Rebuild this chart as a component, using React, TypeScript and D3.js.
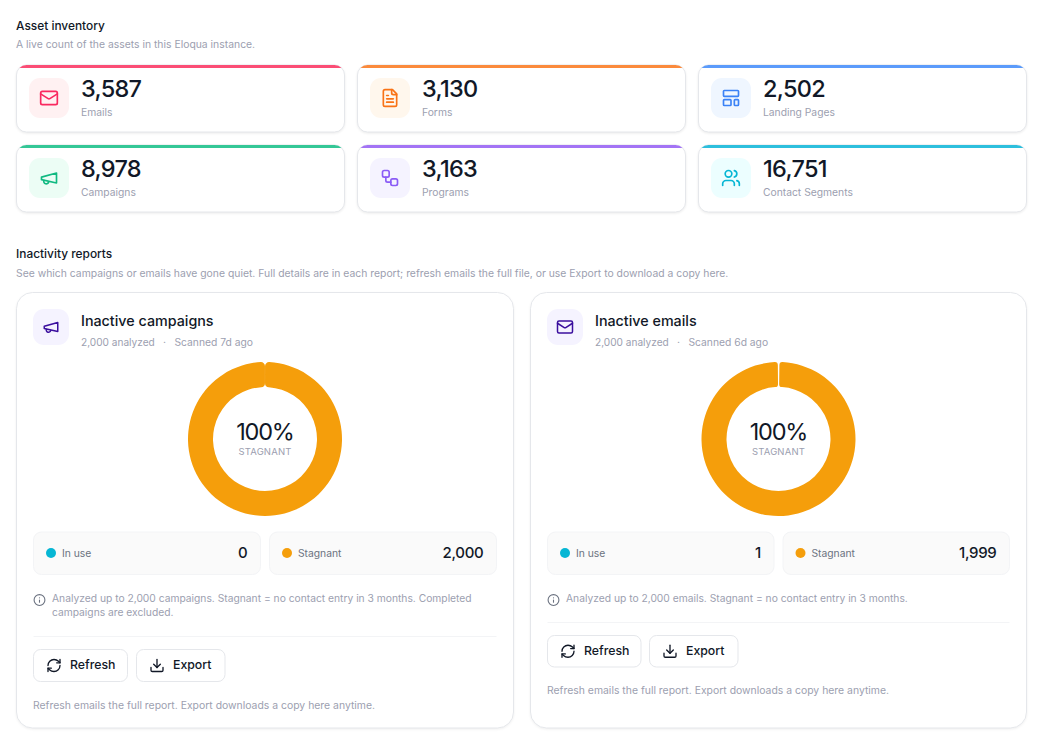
import * as d3 from "d3";

const assetLabels = ["Emails", "Forms", "Landing Pages", "Campaigns", "Programs", "Contact Segments"];
const assetCounts = [3587, 3130, 2502, 8978, 3163, 16751];
const assetIcons = ["mail", "file", "layout", "megaphone", "workflow", "users"];
const assetBars = ["#fb4d75", "#fb8a3c", "#5b9bfb", "#34c796", "#a374f5", "#2dbfdd"];
const assetTints = ["#fff1f2", "#fff7ed", "#eff6ff", "#ecfdf5", "#f5f3ff", "#ecfeff"];
const assetStrokes = ["#f9295f", "#f97316", "#3b82f6", "#10b981", "#8b5cf6", "#06b6d4"];

const reportTitles = ["Inactive campaigns", "Inactive emails"];
const reportIcons = ["megaphone", "mail"];
const reportAnalyzed = [2000, 2000];
const reportScanned = ["Scanned 7d ago", "Scanned 6d ago"];
const inUseCounts = [0, 1];
const stagnantCounts = [2000, 1999];
const reportNotes = [
  ["Analyzed up to 2,000 campaigns. Stagnant = no contact entry in 3 months. Completed", "campaigns are excluded."],
  ["Analyzed up to 2,000 emails. Stagnant = no contact entry in 3 months."],
];
const statusLabels = ["In use", "Stagnant"];
const statusColors = ["#06b6d4", "#f59e0b"];

const FONT = "Inter, sans-serif";
const INK = "#111827";
const MUTED = "#9ca0b0";

const ICONS: Record<string, any> = {
  mail: <><rect x={2} y={4} width={20} height={16} rx={2} /><path d="m22 7-8.97 5.7a1.94 1.94 0 0 1-2.06 0L2 7" /></>,
  file: <><path d="M15 2H6a2 2 0 0 0-2 2v16a2 2 0 0 0 2 2h12a2 2 0 0 0 2-2V7Z" /><path d="M14 2v4a2 2 0 0 0 2 2h4" /><path d="M10 9H8" /><path d="M16 13H8" /><path d="M16 17H8" /></>,
  layout: <><rect x={3} y={3} width={18} height={7} rx={1} /><rect x={3} y={14} width={9} height={7} rx={1} /><rect x={16} y={14} width={5} height={7} rx={1} /></>,
  megaphone: <><path d="m3 11 18-5v12L3 14v-3z" /><path d="M11.6 16.8a3 3 0 1 1-5.8-1.6" /></>,
  workflow: <><rect x={3} y={3} width={8} height={8} rx={2} /><path d="M7 11v4a2 2 0 0 0 2 2h4" /><rect x={13} y={13} width={8} height={8} rx={2} /></>,
  users: <><path d="M16 21v-2a4 4 0 0 0-4-4H6a4 4 0 0 0-4 4v2" /><circle cx={9} cy={7} r={4} /><path d="M22 21v-2a4 4 0 0 0-3-3.87" /><path d="M16 3.13a4 4 0 0 1 0 7.75" /></>,
  refresh: <><path d="M3 12a9 9 0 0 1 9-9 9.75 9.75 0 0 1 6.74 2.74L21 8" /><path d="M21 3v5h-5" /><path d="M21 12a9 9 0 0 1-9 9 9.75 9.75 0 0 1-6.74-2.74L3 16" /><path d="M8 16H3v5" /></>,
  download: <><path d="M21 15v4a2 2 0 0 1-2 2H5a2 2 0 0 1-2-2v-4" /><path d="M7 10l5 5 5-5" /><path d="M12 15V3" /></>,
  info: <><circle cx={12} cy={12} r={10} /><path d="M12 16v-4" /><path d="M12 8h.01" /></>,
};

function Icon({ name, cx, cy, size, color }: { name: string; cx: number; cy: number; size: number; color: string }) {
  const k = size / 24;
  return (
    <g transform={`translate(${cx - size / 2},${cy - size / 2}) scale(${k})`} fill="none" stroke={color} strokeWidth={2} strokeLinecap="round" strokeLinejoin="round">
      {ICONS[name]}
    </g>
  );
}

function Label({ x, y, size, weight = 400, color = INK, anchor = "start", spacing, children }: any) {
  return (
    <text x={x} y={y} fontSize={size} fontWeight={weight} fill={color} textAnchor={anchor} letterSpacing={spacing} fontFamily={FONT}>
      {children}
    </text>
  );
}

const fmt = d3.format(",");

const assetCol = d3.scaleBand<number>().domain([0, 1, 2]).range([16.5, 1026.5]).paddingInner(13 / 341);
const assetRow = d3.scaleOrdinal<number, number>().domain([0, 1]).range([65, 145]);

function AssetCard({ i }: { i: number }) {
  const x = assetCol(i % 3)!;
  const row = Math.floor(i / 3);
  const y = assetRow(row);
  const w = assetCol.bandwidth();
  const h = 67;
  const clip = `asset-clip-${i}`;
  return (
    <g>
      <defs>
        <clipPath id={clip}><rect x={x} y={y} width={w} height={h} rx={10} /></clipPath>
      </defs>
      <rect x={x} y={y} width={w} height={h} rx={10} fill="#fff" stroke="#e5e7eb" style={{ filter: "drop-shadow(0 1px 1px rgba(0,0,0,0.08))" }} />
      <rect x={x} y={y - 0.5} width={w} height={3.5} fill={assetBars[i]} clipPath={`url(#${clip})`} />
      <rect x={x + 12.5} y={y + 13} width={40} height={40} rx={11} fill={assetTints[i]} />
      <Icon name={assetIcons[i]} cx={x + 32.5} cy={y + 33} size={20} color={assetStrokes[i]} />
      <Label x={x + 64.5} y={y + 32} size={23.5} weight={500} spacing={-0.7}>{fmt(assetCounts[i])}</Label>
      <Label x={x + 64.5} y={y + 51} size={10.3} color={MUTED}>{assetLabels[i]}</Label>
    </g>
  );
}

function Donut({ cx, cy, index }: { cx: number; cy: number; index: number }) {
  const values = [inUseCounts[index], stagnantCounts[index]];
  // a full circle has no visible seam in d3.arc, so leave a hair open at the top
  const open = values[0] > 0 ? 0.009 : 0.0005;
  const pie = d3.pie<number>().sort(null).startAngle(open).endAngle(2 * Math.PI - open);
  const arc = d3.arc<d3.PieArcDatum<number>>().innerRadius(52).outerRadius(77).cornerRadius(values[0] > 0 ? 3 : 4);
  return (
    <g transform={`translate(${cx},${cy})`}>
      {pie(values).filter((d) => d.value / d3.sum(values) > 0.01).map((d) => (
        <path key={d.index} d={arc(d)!} fill={statusColors[d.index]} />
      ))}
      <Label x={0} y={0.5} size={23.5} weight={400} anchor="middle" spacing={-1.2}>100%</Label>
      <Label x={0} y={16} size={9.5} color={MUTED} anchor="middle" spacing={0.15}>STAGNANT</Label>
    </g>
  );
}

function StatTile({ x, w, y, status, value }: { x: number; w: number; y: number; status: number; value: number }) {
  return (
    <g>
      <rect x={x} y={y} width={w} height={42.5} rx={8} fill="#fafafa" stroke="#f3f4f6" />
      <circle cx={x + 17.5} cy={y + 21} r={5} fill={statusColors[status]} />
      <Label x={x + 28.5} y={y + 25} size={10.3} color="#6b7280">{statusLabels[status]}</Label>
      <Label x={x + w - 13} y={y + 26} size={15} weight={500} anchor="end" spacing={-0.3}>{fmt(value)}</Label>
    </g>
  );
}

function ActionButton({ x, y, w, h, icon, label }: any) {
  return (
    <g>
      <rect x={x} y={y} width={w} height={h} rx={7} fill="#fff" stroke="#e5e7eb" />
      <Icon name={icon} cx={x + 20.5} cy={y + h / 2} size={16} color={INK} />
      <Label x={x + 36.5} y={y + h / 2 + 3.5} size={12.3} weight={500}>{label}</Label>
    </g>
  );
}

function ReportCard({ index, x, w }: { index: number; x: number; w: number }) {
  const y = 292.5;
  const h = 435.5;
  const left = x + 17;
  const tileW = (w - 34 - 9) / 2;
  const notes = reportNotes[index];
  const wrapped = notes.length > 1;
  const divider = wrapped ? 636.5 : 622.5;
  const btnY = divider + 13;
  const btnH = wrapped ? 32 : 31.5;
  return (
    <g>
      <rect x={x} y={y} width={w} height={h} rx={16} fill="#fff" stroke="#e5e7eb" style={{ filter: "drop-shadow(0 1px 1px rgba(0,0,0,0.06))" }} />
      <rect x={left - 0.5} y={309} width={36} height={36} rx={11} fill="#f5f3ff" />
      <Icon name={reportIcons[index]} cx={left + 17.5} cy={327} size={18} color="#3b0f9e" />
      <Label x={x + 64.5} y={326} size={14.3} weight={500}>{reportTitles[index]}</Label>
      <Label x={x + 64.5} y={346} size={10.1} color={MUTED}>{`${fmt(reportAnalyzed[index])} analyzed`}</Label>
      <Label x={x + 146.5} y={346} size={10.5} color={MUTED}>·</Label>
      <Label x={x + 158} y={346} size={10.3} color={MUTED}>{reportScanned[index]}</Label>
      <Donut cx={x + w / 2} cy={439} index={index} />
      <StatTile x={left} w={tileW} y={532} status={0} value={inUseCounts[index]} />
      <StatTile x={left + tileW + 9} w={tileW} y={532} status={1} value={stagnantCounts[index]} />
      <Icon name="info" cx={left + 6} cy={600} size={13} color="#6b7280" />
      {notes.map((line, i) => (
        <Label key={i} x={left + 18.5} y={601.5 + i * 14} size={10.28} color={MUTED}>{line}</Label>
      ))}
      <line x1={left} x2={x + w - 17} y1={divider} y2={divider} stroke="#f3f4f6" />
      <ActionButton x={left} y={btnY} w={wrapped ? 94 : 93.5} h={btnH} icon="refresh" label="Refresh" />
      <ActionButton x={left + (wrapped ? 103 : 102)} y={btnY} w={88.5} h={btnH} icon="download" label="Export" />
      <Label x={x + 16.5} y={wrapped ? btnY + 59.5 : btnY + 58.5} size={10.42} color={MUTED}>Refresh emails the full report. Export downloads a copy here anytime.</Label>
    </g>
  );
}

export default function App() {
  return (
    <svg width={1048} height={749} viewBox="0 0 1048 749" style={{ position: "absolute", left: 0, top: 0, background: "#fff" }}>
      <Label x={16} y={30} size={11.9} weight={500}>Asset inventory</Label>
      <Label x={16} y={48} size={10.38} color={MUTED}>A live count of the assets in this Eloqua instance.</Label>
      {assetLabels.map((_, i) => <AssetCard key={i} i={i} />)}
      <Label x={16} y={258} size={11.9} weight={500}>Inactivity reports</Label>
      <Label x={16} y={277} size={10.38} color={MUTED}>See which campaigns or emails have gone quiet. Full details are in each report; refresh emails the full file, or use Export to download a copy here.</Label>
      <ReportCard index={0} x={16.5} w={497} />
      <ReportCard index={1} x={530.5} w={496} />
    </svg>
  );
}
